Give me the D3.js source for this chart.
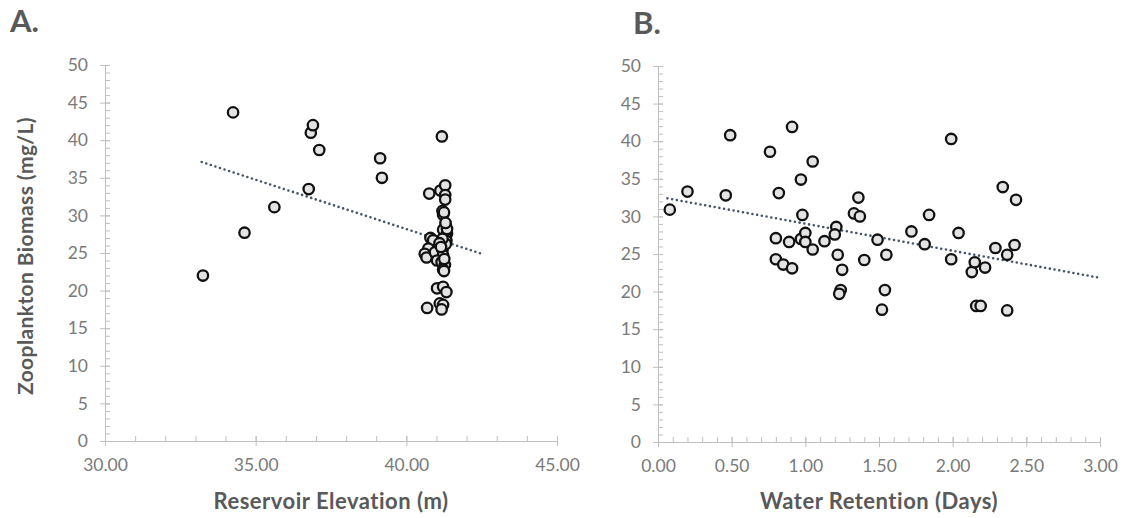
<!DOCTYPE html>
<html>
<head>
<meta charset="utf-8">
<script src="https://cdn.jsdelivr.net/npm/d3@7/dist/d3.min.js"></script>
<style>
  body { margin: 0; background: #fff; }
  svg { display: block; }
</style>
</head>
<body>
<div id="chart"></div>
<script>
// Panel A: reservoir elevation (m) vs zooplankton biomass (mg/L)
const elevation = [33.25, 34.25, 34.63, 35.62, 36.76, 36.83, 36.90, 37.11, 39.13, 39.19,
  41.18, 40.76, 41.13, 41.29, 41.29, 41.29, 41.20, 41.22, 41.25, 41.31,
  41.22, 41.35, 41.31, 41.33, 40.80, 40.89, 40.73, 40.61, 40.67, 40.95,
  41.20, 41.31, 41.22, 41.02, 41.17, 41.28, 41.22, 41.25, 41.02, 41.22,
  41.33, 41.11, 41.22, 40.69, 41.17, 41.20, 41.35, 41.10, 41.26, 41.15, 41.30];
const biomassA = [22.0, 43.7, 27.7, 31.1, 33.5, 41.0, 42.0, 38.7, 37.6, 35.0,
  40.5, 32.9, 33.3, 34.0, 32.7, 32.1, 30.6, 30.1, 30.4, 28.6,
  28.1, 27.6, 27.1, 26.6, 27.0, 26.7, 25.6, 24.9, 24.4, 25.1,
  25.4, 26.2, 24.7, 24.0, 23.8, 23.4, 22.8, 22.6, 20.3, 20.5,
  19.8, 18.3, 18.1, 17.7, 17.5, 26.9, 28.2, 26.3, 24.2, 25.8, 29.0];

// Panel B: water retention (days) vs zooplankton biomass (mg/L)
const retention = [0.08, 0.20, 0.46, 0.49, 0.76, 0.91, 1.05, 0.97, 0.82, 0.98,
  0.80, 0.89, 0.97, 1.00, 1.00, 1.05, 0.80, 0.85, 0.91, 1.13,
  1.21, 1.20, 1.22, 1.25, 1.24, 1.23, 1.33, 1.36, 1.37, 1.40,
  1.49, 1.55, 1.54, 1.52, 1.72, 1.81, 1.84, 1.99, 1.99, 2.04,
  2.13, 2.15, 2.22, 2.16, 2.19, 2.29, 2.34, 2.43, 2.42, 2.37, 2.37];
const biomassB = [30.9, 33.3, 32.8, 40.8, 38.6, 41.9, 37.3, 34.9, 33.1, 30.2,
  27.1, 26.6, 27.0, 27.8, 26.6, 25.6, 24.3, 23.6, 23.1, 26.7,
  28.6, 27.6, 24.9, 22.9, 20.2, 19.7, 30.4, 32.5, 30.0, 24.2,
  26.9, 24.9, 20.2, 17.6, 28.0, 26.3, 30.2, 40.3, 24.3, 27.8,
  22.6, 23.9, 23.2, 18.1, 18.1, 25.8, 33.9, 32.2, 26.2, 24.9, 17.5];

// linear trendlines (endpoints)
const trendAx = [33.21, 42.57];
const trendAy = [37.1, 24.8];
const trendBx = [0.064, 2.98];
const trendBy = [32.4, 21.9];

// ticks
const yTicks = [0, 5, 10, 15, 20, 25, 30, 35, 40, 45, 50];
const yMinor = d3.range(0, 51, 1);
const xTicksA = [30, 35, 40, 45];
const xMinorA = d3.range(30, 45.01, 1);
const xTicksB = [0, 0.5, 1, 1.5, 2, 2.5, 3];
const xMinorB = d3.range(0, 30.1, 1).map(d => d / 10);

const W = 1124, H = 518;
const font = "Lato, 'Open Sans', sans-serif";
const axisColor = "#bfbfbf";
const labelColor = "#7a7a7a";
const titleColor = "#595959";

const svg = d3.select("#chart").append("svg")
  .attr("width", W)
  .attr("height", H)
  .style("font-family", font);

function panel(cfg) {
  const x = d3.scaleLinear().domain(cfg.xDomain).range([cfg.left, cfg.right]);
  const y = d3.scaleLinear().domain([0, 50]).range([cfg.bottom, cfg.top]);
  const g = svg.append("g");

  // minor ticks (inside)
  g.append("g")
    .attr("transform", `translate(${cfg.left},0)`)
    .call(d3.axisRight(y).tickValues(yMinor).tickSize(5).tickFormat(""))
    .call(s => s.select(".domain").remove());
  g.append("g")
    .attr("transform", `translate(0,${cfg.bottom})`)
    .call(d3.axisTop(x).tickValues(cfg.xMinor).tickSize(5).tickFormat(""))
    .call(s => s.select(".domain").remove());

  // y axis, major ticks crossing
  const ya = g.append("g")
    .attr("transform", `translate(${cfg.left},0)`)
    .call(d3.axisLeft(y).tickValues(yTicks).tickSize(5).tickPadding(12).tickSizeOuter(0));
  ya.selectAll(".tick line").attr("x2", 5).attr("x1", -5);

  // x axis
  const xa = g.append("g")
    .attr("transform", `translate(0,${cfg.bottom})`)
    .call(d3.axisBottom(x).tickValues(cfg.xTicks).tickFormat(d3.format(".2f"))
      .tickSize(5).tickPadding(13).tickSizeOuter(0));
  xa.selectAll(".tick line").attr("y1", -5).attr("y2", 5);

  g.selectAll(".domain, .tick line").attr("stroke", axisColor).attr("stroke-width", 1);
  g.selectAll(".tick text")
    .attr("fill", labelColor)
    .style("font-family", font)
    .style("font-size", "17.5px");

  // trendline
  const pts = cfg.trendX.map((d, i) => [d, cfg.trendY[i]]);
  g.append("path")
    .attr("d", d3.line().x(d => x(d[0])).y(d => y(d[1]))(pts))
    .attr("fill", "none")
    .attr("stroke", "#44546a")
    .attr("stroke-width", 2.6)
    .attr("stroke-linecap", "round")
    .attr("stroke-dasharray", "0 4.8");

  // points
  g.append("g").selectAll("circle")
    .data(cfg.xs.map((d, i) => [d, cfg.ys[i]]))
    .join("circle")
    .attr("cx", d => x(d[0]))
    .attr("cy", d => y(d[1]))
    .attr("r", 5.2)
    .attr("fill", "#e3e3e3")
    .attr("stroke", "#111")
    .attr("stroke-width", 2.3);

  // axis title
  g.append("text")
    .attr("x", (cfg.left + cfg.right) / 2)
    .attr("y", 509)
    .attr("text-anchor", "middle")
    .attr("fill", titleColor)
    .style("font-size", "22px")
    .style("letter-spacing", "0.5px")
    .style("font-weight", "bold")
    .text(cfg.xTitle);

  // panel letter
  g.append("text")
    .attr("x", cfg.letterX)
    .attr("y", cfg.letterY)
    .attr("fill", titleColor)
    .style("font-size", "31px")
    .style("font-weight", "bold")
    .text(cfg.letter);
}

panel({
  xDomain: [30, 45], left: 105, right: 557, top: 65, bottom: 441,
  xTicks: xTicksA, xMinor: xMinorA,
  xs: elevation, ys: biomassA, trendX: trendAx, trendY: trendAy,
  xTitle: "Reservoir Elevation (m)", letter: "A.", letterX: 10, letterY: 32
});

panel({
  xDomain: [0, 3], left: 658, right: 1100, top: 66, bottom: 442,
  xTicks: xTicksB, xMinor: xMinorB,
  xs: retention, ys: biomassB, trendX: trendBx, trendY: trendBy,
  xTitle: "Water Retention (Days)", letter: "B.", letterX: 633, letterY: 34
});

// shared y title
svg.append("text")
  .attr("transform", "translate(33,256) rotate(-90)")
  .attr("text-anchor", "middle")
  .attr("fill", titleColor)
  .style("font-size", "21px")
  .style("letter-spacing", "0.4px")
  .style("font-weight", "bold")
  .text("Zooplankton Biomass (mg/L)");
</script>
</body>
</html>
